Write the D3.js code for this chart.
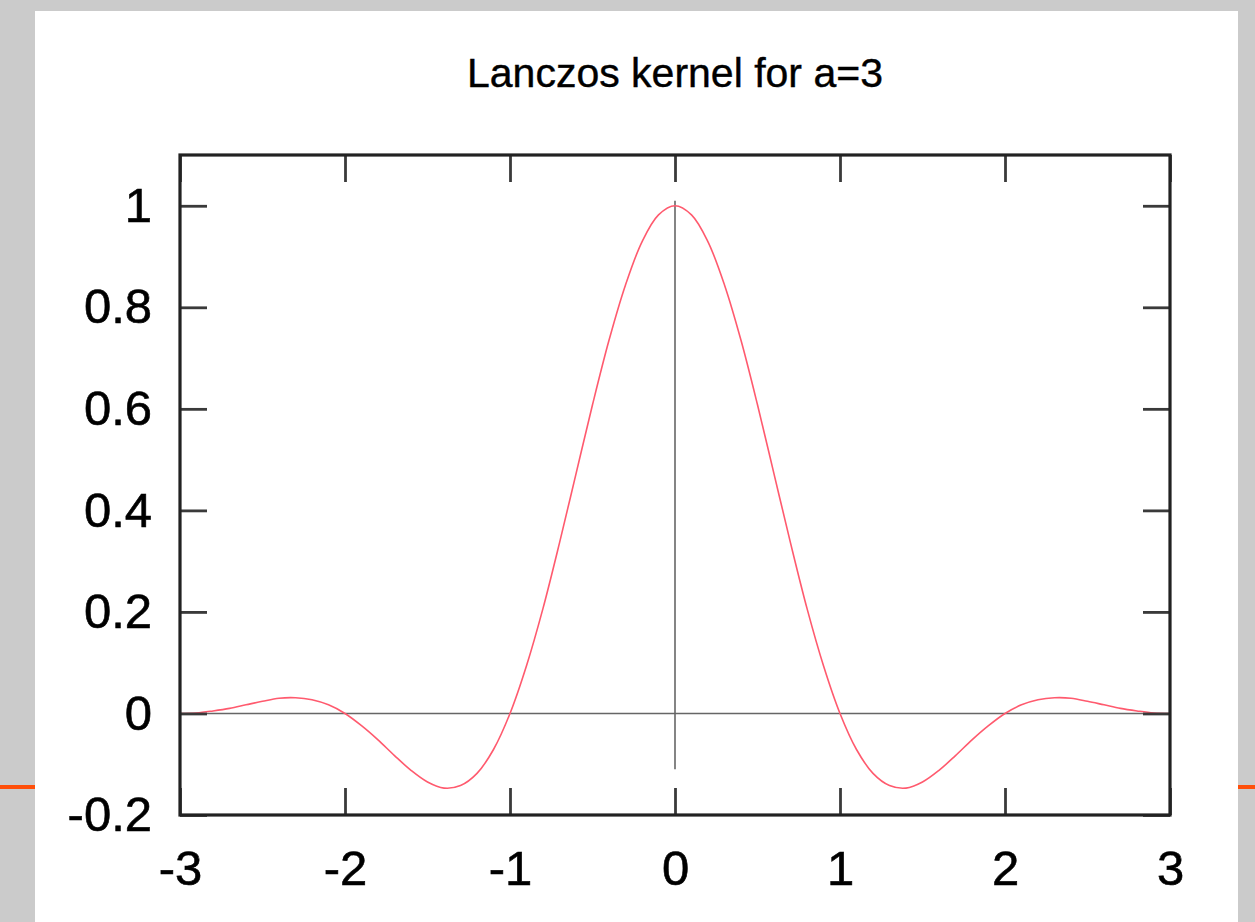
<!DOCTYPE html>
<html>
<head>
<meta charset="utf-8">
<script src="https://cdn.jsdelivr.net/npm/d3@7"></script>
<style>
  html, body { margin: 0; padding: 0; background: #cbcbcb; }
  svg { display: block; }
  text { font-family: "Liberation Sans", Arial, Helvetica, sans-serif; fill: #000; }
</style>
</head>
<body>
<svg id="chart" width="1255" height="922"></svg>
<script>
// ---- Data ----
const title = "Lanczos kernel for a=3";
const xValues = [-3.0,-2.9,-2.8,-2.7,-2.6,-2.5,-2.4,-2.3,-2.2,-2.1,-2.0,-1.9,-1.8,-1.7,-1.6,-1.5,-1.4,-1.3,-1.2,-1.1,-1.0,-0.9,-0.8,-0.7,-0.6,-0.5,-0.4,-0.3,-0.2,-0.1,0.0,0.1,0.2,0.3,0.4,0.5,0.6,0.7,0.8,0.9,1.0,1.1,1.2,1.3,1.4,1.5,1.6,1.7,1.8,1.9,2.0,2.1,2.2,2.3,2.4,2.5,2.6,2.7,2.8,2.9,3.0];
const yValues = [0.000,0.001,0.005,0.010,0.017,0.024,0.030,0.031,0.027,0.017,0.000,-0.024,-0.052,-0.083,-0.112,-0.135,-0.147,-0.142,-0.118,-0.071,0.000,0.094,0.207,0.336,0.472,0.608,0.735,0.844,0.929,0.982,1.000,0.982,0.929,0.844,0.735,0.608,0.472,0.336,0.207,0.094,0.000,-0.071,-0.118,-0.142,-0.147,-0.135,-0.112,-0.083,-0.052,-0.024,0.000,0.017,0.027,0.031,0.030,0.024,0.017,0.010,0.005,0.001,0.000];
const xTicks = [-3, -2, -1, 0, 1, 2, 3];
const xTickLabels = ["-3", "-2", "-1", "0", "1", "2", "3"];
const yTicks = [-0.2, 0, 0.2, 0.4, 0.6, 0.8, 1];
const yTickLabels = ["-0.2", "0", "0.2", "0.4", "0.6", "0.8", "1"];
const xDomain = [-3, 3];
const yDomain = [-0.2, 1.1];
const vZeroAxisRange = [-0.11, 1.01];

// ---- Layout ----
const W = 1255, H = 922;
const plot = { left: 180, right: 1170, top: 155, bottom: 815 };
const svg = d3.select("#chart");

// page background and white panel
svg.append("rect").attr("x", 0).attr("y", 0).attr("width", W).attr("height", H).attr("fill", "#cbcbcb");
svg.append("rect").attr("x", 35).attr("y", 11).attr("width", 1203).attr("height", H - 11).attr("fill", "#ffffff");
// orange rule peeking out at the sides
svg.append("rect").attr("x", 0).attr("y", 785).attr("width", 35).attr("height", 4).attr("fill", "#ff4f0a");
svg.append("rect").attr("x", 1238).attr("y", 785).attr("width", 17).attr("height", 4).attr("fill", "#ff4f0a");

const x = d3.scaleLinear().domain(xDomain).range([plot.left, plot.right]);
const y = d3.scaleLinear().domain(yDomain).range([plot.bottom, plot.top]);

// title
svg.append("text")
  .attr("x", (plot.left + plot.right) / 2)
  .attr("y", 87)
  .attr("text-anchor", "middle")
  .style("font-size", "41px")
  .attr("stroke", "#000").attr("stroke-width", 0.4)
  .text(title);

// zero axes
svg.append("line")
  .attr("x1", x(xDomain[0])).attr("x2", x(xDomain[1]))
  .attr("y1", y(0)).attr("y2", y(0))
  .attr("stroke", "#666").attr("stroke-width", 1.6);
svg.append("line")
  .attr("x1", x(0)).attr("x2", x(0))
  .attr("y1", y(vZeroAxisRange[1])).attr("y2", y(vZeroAxisRange[0]))
  .attr("stroke", "#666").attr("stroke-width", 1.6);

// curve
const pts = xValues.map((v, i) => [v, yValues[i]]);
svg.append("path")
  .datum(pts)
  .attr("fill", "none")
  .attr("stroke", "#ff5a6e")
  .attr("stroke-width", 1.6)
  .attr("d", d3.line().x(d => x(d[0])).y(d => y(d[1])).curve(d3.curveCatmullRom.alpha(0.5)));

// axes with inward ticks
const tickLen = 27;
function styleAxis(g) {
  g.select(".domain").remove();
  g.selectAll(".tick line").attr("stroke", "#3a3a3a").attr("stroke-width", 2.8);
  g.selectAll(".tick text").style("font-size", "49px").attr("fill", "#000")
    .attr("stroke", "#000").attr("stroke-width", 0.6);
}
svg.append("g")
  .attr("transform", `translate(0,${plot.bottom})`)
  .call(d3.axisBottom(x).tickValues(xTicks).tickSize(-tickLen).tickPadding(35)
    .tickFormat((d, i) => xTickLabels[i]))
  .call(styleAxis);
svg.append("g")
  .attr("transform", `translate(0,${plot.top})`)
  .call(d3.axisTop(x).tickValues(xTicks).tickSize(-tickLen).tickFormat(""))
  .call(styleAxis);
svg.append("g")
  .attr("transform", `translate(${plot.left},0)`)
  .call(d3.axisLeft(y).tickValues(yTicks).tickSize(-tickLen).tickPadding(28)
    .tickFormat((d, i) => yTickLabels[i]))
  .call(styleAxis);
svg.append("g")
  .attr("transform", `translate(${plot.right},0)`)
  .call(d3.axisRight(y).tickValues(yTicks).tickSize(-tickLen).tickFormat(""))
  .call(styleAxis);

// frame
svg.append("rect")
  .attr("x", plot.left).attr("y", plot.top)
  .attr("width", plot.right - plot.left).attr("height", plot.bottom - plot.top)
  .attr("fill", "none").attr("stroke", "#222").attr("stroke-width", 3.2);
</script>
</body>
</html>
